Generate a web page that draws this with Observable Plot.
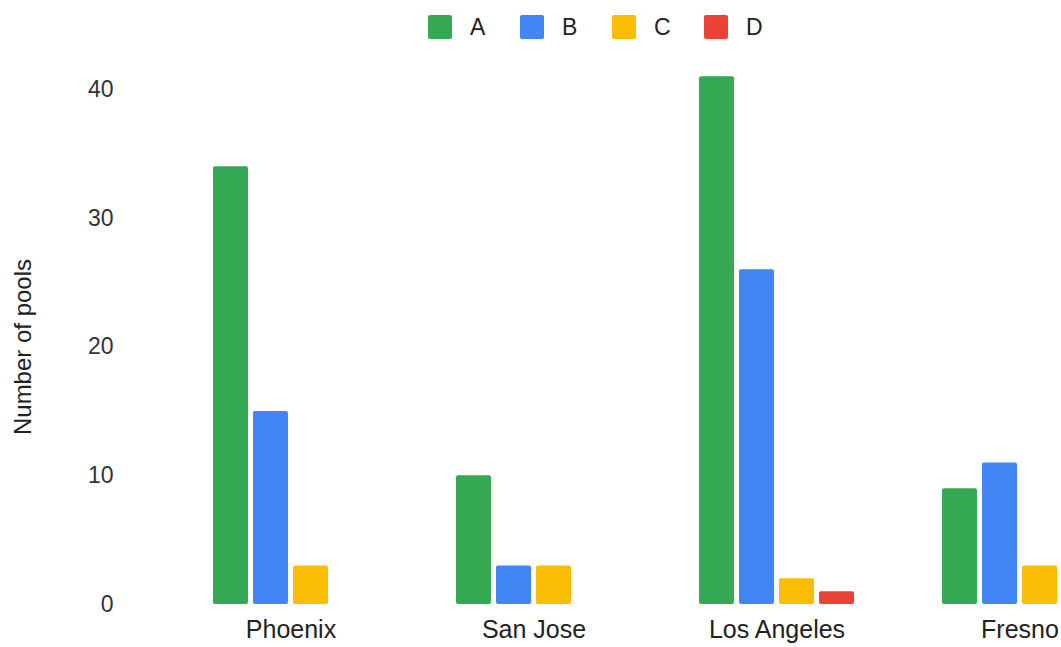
<!DOCTYPE html>
<html><head><meta charset="utf-8">
<script src="https://cdn.jsdelivr.net/npm/d3@7"></script>
<script src="https://cdn.jsdelivr.net/npm/@observablehq/plot@0.6"></script>
<style>
body{margin:0;background:#fff;font-family:Arial,"Liberation Sans",sans-serif;}
#wrap{position:relative;width:1061px;height:647px;overflow:hidden;}
#legend{position:absolute;left:428px;top:15px;display:flex;height:24px;}
.item{display:flex;align-items:center;width:92px;font-size:23px;color:#222;line-height:24px;}
.sw{width:24px;height:24px;border-radius:2px;margin-right:18px;flex:none;}
#chart{position:absolute;left:0;top:52px;width:1141px;}
#chart svg{max-width:none !important;}
#chart g[aria-label="fx-axis tick label"]{font-size:25px;fill:#222;}
#chart g[aria-label="y-axis label"]{font-size:24px;fill:#222;}
</style></head><body>
<div id="wrap"><div id="legend"></div><div id="chart"></div></div>
<script>
const cities = ["Phoenix", "San Jose", "Los Angeles", "Fresno"];
const series = ["A", "B", "C", "D"];
const colors = ["#34a853", "#4285f4", "#fbbc04", "#ea4335"];
const valuesA = [34, 10, 41, 9];
const valuesB = [15, 3, 26, 11];
const valuesC = [3, 3, 2, 3];
const valuesD = [0, 0, 1, 0];
const yTicks = [0, 10, 20, 30, 40];
const yLabel = "Number of pools";

const cols = [valuesA, valuesB, valuesC, valuesD];
const data = [];
cities.forEach((c, i) => series.forEach((s, j) => data.push({city: c, series: s, value: cols[j][i]})));

const legend = document.getElementById("legend");
series.forEach((s, j) => {
  const it = document.createElement("div");
  it.className = "item";
  const sw = document.createElement("span");
  sw.className = "sw";
  sw.style.background = colors[j];
  it.appendChild(sw);
  it.appendChild(document.createTextNode(s));
  legend.appendChild(it);
});

const chart = Plot.plot({
  width: 1141, height: 595,
  marginLeft: 169, marginRight: 0, marginTop: 37, marginBottom: 43,
  style: {fontFamily: 'Arial, "Liberation Sans", sans-serif', fontSize: "23px", color: "#333", background: "transparent", overflow: "visible", maxWidth: "none"},
  fx: {domain: cities, paddingInner: 0.362, paddingOuter: 0.181, axis: "bottom", label: null, tickSize: 0, tickPadding: 16, round: false},
  x: {domain: series, paddingInner: 0.125, paddingOuter: 0, axis: null, round: false},
  y: {domain: [0, 40]},
  color: {domain: series, range: colors},
  marks: [
    Plot.axisY({ticks: yTicks, tickSize: 0, tickPadding: 100, label: null}),
    Plot.axisY({ticks: [], label: yLabel, labelArrow: "none", labelAnchor: "center", labelOffset: 200, dy: 7}),
    Plot.barY(data, {fx: "city", x: "series", y: "value", fill: "series", rx: 2})
  ]
});
document.getElementById("chart").appendChild(chart);
</script>
</body></html>
